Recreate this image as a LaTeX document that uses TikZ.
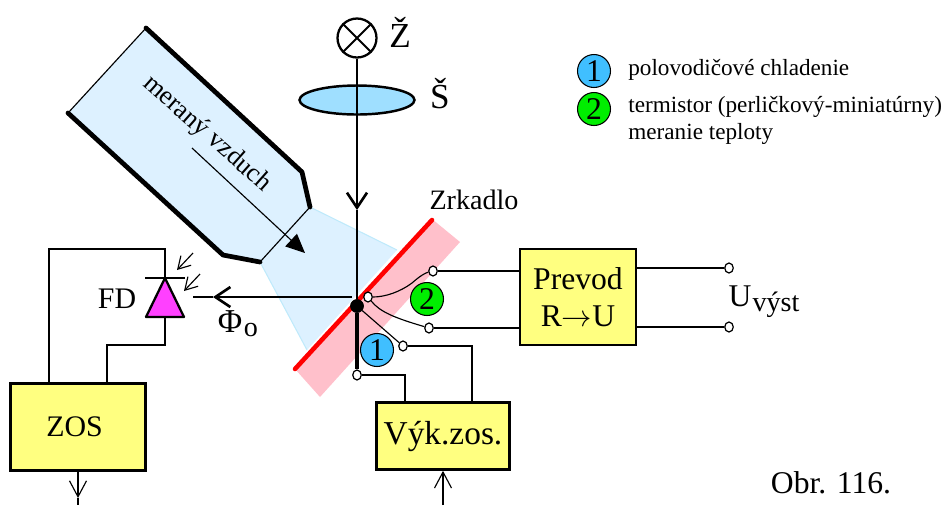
\documentclass[tikz,border=0pt]{standalone}
\usepackage{fontspec}
\setmainfont{Liberation Serif}
\usetikzlibrary{arrows.meta,shapes.geometric}
\definecolor{tubeblue}{HTML}{DDF1FF}
\definecolor{lensblue}{HTML}{9FDFFF}
\definecolor{boxyellow}{HTML}{FFFF80}
\definecolor{mirrorpink}{HTML}{FFC0CB}
\definecolor{onecolor}{HTML}{40BFFF}
\definecolor{twocolor}{HTML}{00EE00}
\definecolor{diodecolor}{HTML}{FF40FF}
\tikzset{
  wire/.style={line width=0.65pt},
  wall/.style={line width=2.7pt,line cap=round,line join=round},
  blok/.style={draw,line width=1.5pt,fill=boxyellow,align=center,inner sep=0pt},
  svorka/.style={draw,ellipse,fill=white,line width=0.7pt,inner sep=0pt,minimum width=0.17cm,minimum height=0.2cm},
  cislo/.style={draw,circle,line width=0.6pt,inner sep=0pt,minimum size=0.66cm,font=\fontsize{18}{20}\selectfont},
  popis/.style={font=\fontsize{17}{19}\selectfont,inner sep=0pt},
  legenda/.style={font=\fontsize{13.2}{15}\selectfont,anchor=west,inner sep=0pt},
  otvorena/.style={-{Straight Barb[length=0.32cm,width=0.34cm]}},
  mala/.style={-{Straight Barb[length=0.24cm,width=0.28cm]}},
  plna/.style={-{Straight Barb[length=0.3cm,width=0.4cm,line width=1.5pt]}}
}
\begin{document}
\begin{tikzpicture}[x=0.02cm,y=-0.02cm]
  \useasboundingbox (0,0) rectangle (943,505);
  % beam and tube
  \fill [tubeblue] (146,28) -- (302,172) -- (310,207) -- (397,250) -- (307,350) -- (260,262) -- (223,255) -- (68,113) -- cycle;
  \draw [cyan!25,line width=0.6pt] (310,207) -- (397,250) (260,262) -- (307,350);
  \draw [wire] (68,113) -- (146,28);
  \draw [wire] (310,207) -- (260,262);
  \draw [wall] (146,28) -- (302,172) -- (310,207);
  \draw [wall] (68,113) -- (223,255) -- (260,262);
  \node [rotate=-41.5,font=\fontsize{15}{17}\selectfont,inner sep=0pt] at (207,134) {meraný vzduch};
  \coordinate (prud0) at (192,148);
  \coordinate (prud1) at (305,253);
  \draw [wire,-{Triangle[length=0.38cm,width=0.34cm]}] (prud0) -- (prud1);
  % mirror
  \fill [mirrorpink] (432,219) -- (460,242) -- (320,397) -- (295,369) -- cycle;
  \draw [red,line width=2.6pt,line cap=round] (432,220) -- (295,369);
  % lamp and lens
  \node (zdroj) [draw,circle,line width=1.3pt,minimum size=0.78cm,inner sep=0pt] at (357,38) {};
  \draw [line width=1.1pt] (zdroj.north west) -- (zdroj.south east) (zdroj.north east) -- (zdroj.south west);
  \node (sosovka) [draw,ellipse,line width=1.4pt,fill=lensblue,minimum width=2.3cm,minimum height=0.58cm,inner sep=0pt] at (357,100) {};
  \node (bod) [draw,circle,fill=black,minimum size=0.26cm,inner sep=0pt] at (357,306) {};
  \coordinate (hrot) at (357,210);
  \draw [wire,plna] (zdroj.south) -- (hrot);
  \draw [wire] (hrot) -- (bod.north);
  \node at (400,32) [popis,font=\fontsize{20}{22}\selectfont] {Ž};
  \node at (440,94) [popis,font=\fontsize{20}{22}\selectfont] {Š};
  \node at (474,200) [popis,font=\fontsize{16}{18}\selectfont] {Zrkadlo};
  % terminals on the mirror
  \node (s0) [svorka] at (368,297) {};
  \node (s1) [svorka] at (433,271) {};
  \node (s2) [svorka] at (429,328) {};
  \node (s3) [svorka] at (403,346) {};
  \node (s4) [svorka] at (357,375) {};
  \draw [line width=2.6pt] (bod.south) -- (s4.north);
  \draw [wire] (bod) -- (s3);
  \draw [wire] (s0) .. controls (385,297) and (400,292) .. (412,283) .. controls (420,276) and (425,273) .. (s1);
  \draw [wire] (s0) .. controls (380,312) and (395,318) .. (s2);
  \node (two) [cislo,fill=twocolor] at (427,299) {2};
  \node (one) [cislo,fill=onecolor] at (377,350) {1};
  % blocks
  \node (prevod) [blok,minimum width=2.32cm,minimum height=1.92cm,font=\fontsize{18}{21}\selectfont] at (578,297) {Prevod\\R$\rightarrow$U};
  \node (vyk) [blok,minimum width=2.66cm,minimum height=1.34cm,font=\fontsize{19}{21}\selectfont] at (443,436) {Výk.zos.};
  \node (zos) [blok,minimum width=2.7cm,minimum height=1.74cm,font=\fontsize{17}{19}\selectfont] at (78,427) {ZOS\hspace{4pt}};
  \draw [wire] (s1) -- (s1 -| prevod.west);
  \draw [wire] (s2) -- (s2 -| prevod.west);
  \draw [wire] (s3) -| (472,402);
  \draw [wire] (s4) -| (405,402);
  \node (u1) [svorka] at (729,268) {};
  \node (u2) [svorka] at (729,327) {};
  \draw [wire] (u1 -| prevod.east) -- (u1);
  \draw [wire] (u2 -| prevod.east) -- (u2);
  \node at (740,296) [popis,font=\fontsize{18}{20}\selectfont] {U};
  \node at (776,305) [popis,font=\fontsize{16}{18}\selectfont] {výst};
  % photodiode
  \coordinate (katoda) at (165,278);
  \coordinate (anoda) at (165,317);
  \fill [diodecolor,draw=black,line width=1.3pt,line join=round] (katoda) -- (184,317) -- (146,317) -- cycle;
  \draw [line width=1.3pt] (145,278) -- (185,278);
  \draw [wire] (49,383) -- (49,249) -- (165,249) -- (katoda);
  \draw [wire] (anoda) -- (165,345) -- (107,345) -- (107,383);
  \draw [wire,mala] (193,253) -- (177,270);
  \draw [wire,mala] (200,274) -- (184,291);
  \node at (117,299) [popis] {FD};
  % reflected beam
  \coordinate (hrot2) at (213,297);
  \coordinate (koniec) at (193,297);
  \draw [wire,plna] (bod.north west |- hrot2) -- (hrot2);
  \draw [wire] (hrot2) -- (koniec);
  \node at (230,322) [popis,font=\fontsize{19}{21}\selectfont] {Φ};
  \node at (251,330) [popis,font=\fontsize{16}{18}\selectfont] {o};
  % in and out
  \coordinate (zosout) at (78,505);
  \coordinate (vykin) at (443,505);
  \draw [wire,otvorena] (zos.south) -- (78,498);
  \draw [wire] (78,498) -- (zosout);
  \draw [wire,otvorena] (vykin) -- (vyk.south);
  % legend
  \node (l1) [cislo,fill=onecolor] at (594,71) {1};
  \node (l2) [cislo,fill=twocolor] at (594,109) {2};
  \node at (628,70) [legenda] {polovodičové chladenie};
  \node at (628,107) [legenda] {termistor (perličkový-miniatúrny)};
  \node at (628,134) [legenda] {meranie teploty};
  \node at (831,483) [popis,font=\fontsize{18}{20}\selectfont] {Obr. 116.};
\end{tikzpicture}
\end{document}
